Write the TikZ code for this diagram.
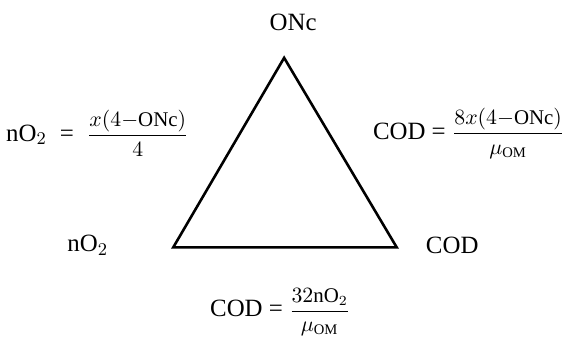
\documentclass[tikz,border=0pt]{standalone}
\usepackage{amsmath}
\usepackage{fontspec}
\setmainfont{Liberation Serif}
\usepackage{tikz}

\begin{document}
\begin{tikzpicture}[line join=miter,
  lbl/.style={font=\fontsize{12.5}{15}\selectfont}]
\useasboundingbox (0,0) rectangle (10,5.972);

\coordinate (top) at (5.02,4.95);
\coordinate (left) at (3.06,1.60);
\coordinate (right) at (7.01,1.60);

\draw[line width=1.3pt] (top) -- (left) -- (right) -- cycle;

\node[lbl] (onc) at (5.18,5.58) {ONc};
\node[lbl] (no2) at (1.55,1.64) {nO$_2$};
\node[lbl] (cod) at (7.99,1.64) {COD};

\node[lbl] (eqleft) at (1.72,3.62) {nO$_2$\; =\; {\fontsize{10.5}{12}\selectfont$\displaystyle\frac{x(4{-}\mathrm{ONc})}{4}$}};
\node[lbl] (eqright) at (8.28,3.62) {COD = {\fontsize{10.5}{12}\selectfont$\displaystyle\frac{8x(4{-}\mathrm{ONc})}{\mu_{\mathrm{OM}}}$}};
\node[lbl] (eqbottom) at (4.95,0.46) {COD = {\fontsize{10.5}{12}\selectfont$\displaystyle\frac{32\mathrm{nO}_2}{\mu_{\mathrm{OM}}}$}};
\end{tikzpicture}
\end{document}
